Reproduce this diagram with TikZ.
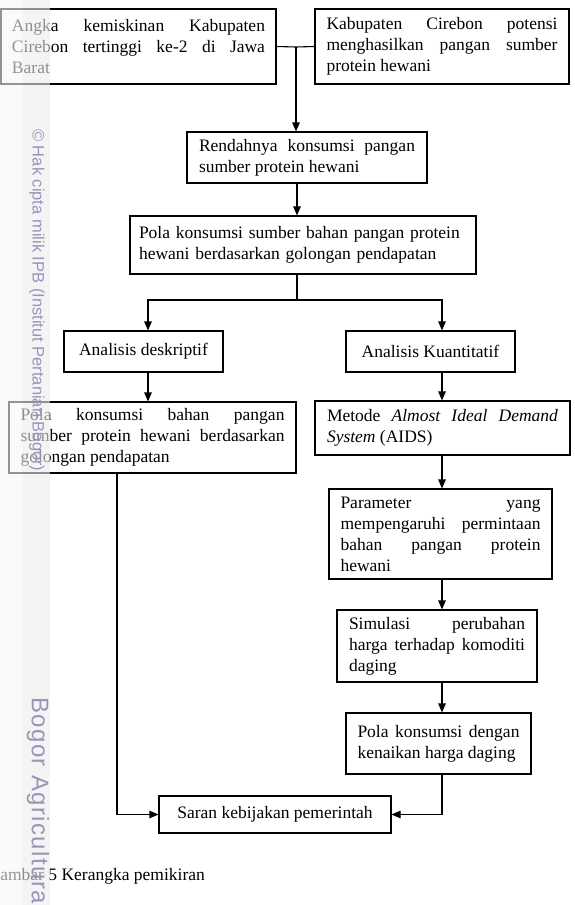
\documentclass[tikz,border=0pt]{standalone}
\usepackage{fontspec}
\setmainfont{Liberation Serif}
\newfontfamily\wmfont{Liberation Sans}
\newfontfamily\wmbesar[LetterSpace=6]{Liberation Sans}
\usetikzlibrary{arrows.meta}
\definecolor{ungu}{RGB}{150,150,188}
\tolerance=10000
\hyphenpenalty=10000

\begin{document}
\begin{tikzpicture}[x=1pt, y=-1pt,
    kotak/.style={draw, line width=1.1pt, inner xsep=0pt, inner ysep=0pt,
        font=\fontsize{17.5}{21}\selectfont},
    panah/.style={line width=1.1pt, -{Triangle[length=9pt,width=7.5pt]}},
    garis/.style={line width=1.1pt}]
            % Frame of the page
            \useasboundingbox (0,0) rectangle (574,905);
            \clip (0,0) rectangle (574,905);
            
            % Columns of the flow
            \coordinate (kolkiri) at (148,0);
            \coordinate (kolkanan) at (442,0);
            \coordinate (kolbawah) at (117,0);
            
            % Top row
            \node[kotak, minimum width=275pt, minimum height=75pt, text width=253pt, align=justify] (angka) at (138.5,46.5)
                {Angka kemiskinan Kabupaten\linebreak Cirebon tertinggi ke-2 di Jawa\linebreak Barat};
            \node[kotak, minimum width=254pt, minimum height=75pt, text width=231pt, align=justify] (potensi) at (442,46.5)
                {Kabupaten Cirebon potensi\linebreak menghasilkan pangan sumber\linebreak protein hewani};
            
            % Middle boxes
            \node[kotak, minimum width=240pt, minimum height=51pt, text width=216pt, align=justify] (rendah) at (307,157.5)
                {Rendahnya konsumsi pangan\linebreak sumber protein hewani};
            \node[kotak, minimum width=346pt, minimum height=58pt, text width=328pt, align=left] (pola) at (303,245)
                {Pola konsumsi sumber bahan pangan protein\\ hewani berdasarkan golongan pendapatan};
            
            % Two branches
            \node[kotak, minimum width=159pt, minimum height=41pt, align=center] (deskriptif) at (143.5,351.5) {Analisis deskriptif};
            \node[kotak, minimum width=169pt, minimum height=41pt, align=center] (kuantitatif) at (430.5,351.5) {Analisis Kuantitatif};
            
            % Left branch
            \node[kotak, minimum width=287pt, minimum height=71pt, text width=264pt, align=justify] (konsumsi) at (152.5,437.5)
                {Pola konsumsi bahan pangan\linebreak sumber protein hewani berdasarkan\linebreak golongan pendapatan};
            
            % Right branch
            \node[kotak, minimum width=255pt, minimum height=54pt, text width=231pt, align=justify] (aids) at (442.5,428)
                {Metode \textit{Almost Ideal Demand}\linebreak \textit{System} (AIDS)};
            \node[kotak, minimum width=223pt, minimum height=90pt, text width=200pt, align=justify] (parameter) at (440.5,534)
                {Parameter yang\linebreak mempengaruhi permintaan\linebreak bahan pangan protein\linebreak hewani};
            \node[kotak, minimum width=200pt, minimum height=72pt, text width=176pt, align=justify] (simulasi) at (437,646)
                {Simulasi perubahan\linebreak harga terhadap komoditi\linebreak daging};
            \node[kotak, minimum width=185pt, minimum height=61pt, text width=162pt, align=justify] (dengan) at (438.5,743.5)
                {Pola konsumsi dengan\linebreak kenaikan harga daging};
            
            % Bottom box
            \node[kotak, minimum width=232pt, minimum height=37pt, align=center] (saran) at (275,814.5) {Saran kebijakan pemerintah};
            
            % Connectors
            \coordinate (j1) at (296,47);
            \coordinate (j2) at (297,300);
            \draw[garis] (angka.east) -- (j1) -- (potensi.west);
            \draw[panah] (j1) -- (j1 |- rendah.north);
            \draw[panah] (rendah.south -| j2) -- (pola.north -| j2);
            \draw[garis] (pola.south -| j2) -- (j2);
            \draw[panah] (j2) -| (deskriptif.north -| kolkiri);
            \draw[panah] (j2) -| (kuantitatif.north -| kolkanan);
            \draw[panah] (deskriptif.south -| kolkiri) -- (konsumsi.north -| kolkiri);
            \draw[panah] (kuantitatif.south -| kolkanan) -- (aids.north -| kolkanan);
            \draw[panah] (aids.south -| kolkanan) -- (parameter.north -| kolkanan);
            \draw[panah] (parameter.south -| kolkanan) -- (simulasi.north -| kolkanan);
            \draw[panah] (simulasi.south -| kolkanan) -- (dengan.north -| kolkanan);
            \draw[panah] (konsumsi.south -| kolbawah) |- (saran.west);
            \draw[panah] (dengan.south -| kolkanan) |- (saran.east);
            
            % Caption
            \node[anchor=base west, inner sep=0pt, font=\fontsize{17.5}{21}\selectfont] (judul) at (-12.5,880) {Gambar 5 Kerangka pemikiran};
            
            % Watermark band
            \fill[gray!6, opacity=0.6] (0,0) rectangle (22,905);
            \fill[gray!14, opacity=0.6] (22,0) rectangle (50,905);
            \node[rotate=-90, anchor=west, inner sep=0pt, text=ungu, font=\wmfont\fontsize{16.5}{17}\selectfont] (hakcipta) at (37,129)
                {© Hak cipta milik IPB (Institut Pertanian Bogor)};
            \node[rotate=-90, anchor=west, inner sep=0pt, text=ungu, font=\wmbesar\fontsize{24}{26}\selectfont] (bogor) at (38,697)
                {Bogor Agricultural University};
        \end{tikzpicture}
\end{document}
